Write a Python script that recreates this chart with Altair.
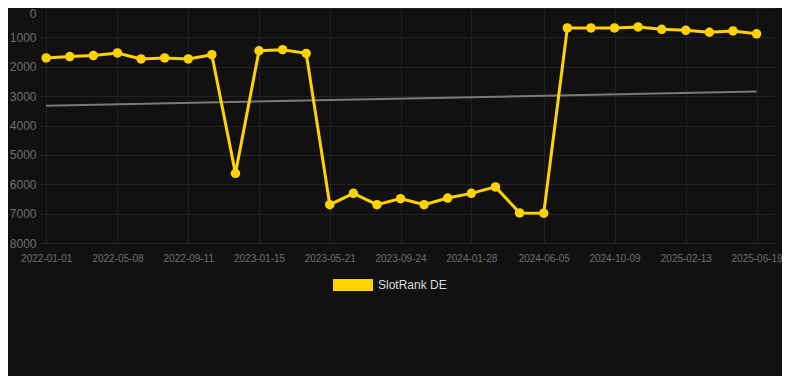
import altair as alt
import pandas as pd

series_name = "SlotRank DE"

dates = [
    "2022-01-01", "2022-02-12", "2022-03-26", "2022-05-08", "2022-06-19", "2022-07-31",
    "2022-09-11", "2022-10-23", "2022-12-04", "2023-01-15", "2023-02-26", "2023-04-09",
    "2023-05-21", "2023-07-02", "2023-08-13", "2023-09-24", "2023-11-05", "2023-12-17",
    "2024-01-28", "2024-03-11", "2024-04-23", "2024-06-05", "2024-07-17", "2024-08-28",
    "2024-10-09", "2024-11-20", "2025-01-01", "2025-02-13", "2025-03-27", "2025-05-08",
    "2025-06-19",
]

ranks = [
    1700, 1655, 1620, 1530, 1735, 1700, 1735, 1590, 5630, 1455, 1420, 1545,
    6695, 6310, 6695, 6490, 6695, 6470, 6310, 6090, 6975, 6985,
    680, 680, 680, 645, 725, 760, 825, 780, 880,
]

tick_dates = [
    (2022, 1, 1), (2022, 5, 8), (2022, 9, 11), (2023, 1, 15), (2023, 5, 21), (2023, 9, 24),
    (2024, 1, 28), (2024, 6, 5), (2024, 10, 9), (2025, 2, 13), (2025, 6, 19),
]
y_ticks = [0, 1000, 2000, 3000, 4000, 5000, 6000, 7000, 8000]

YELLOW = "#FFD200"
FONT = "Liberation Sans"

df = pd.DataFrame({"date": dates, "rank": ranks, "series": [series_name] * len(dates)})


def dt(t):
    return alt.DateTime(year=t[0], month=t[1], date=t[2], utc=True)


x_enc = alt.X(
    "t:T",
    title=None,
    scale=alt.Scale(type="utc", domain=[dt((2021, 12, 21)), dt((2025, 7, 20))]),
    axis=alt.Axis(
        values=[dt(t) for t in tick_dates],
        format="%Y-%m-%d",
        labelColor="#707070",
        labelFontSize=10,
        labelFont=FONT,
        labelPadding=10,
        ticks=False,
        domain=False,
        grid=True,
        gridColor="#222222",
        labelOverlap=False,
    ),
)
y_enc = alt.Y(
    "rank:Q",
    title=None,
    scale=alt.Scale(domain=[0, 8000], reverse=True, nice=False, zero=False),
    axis=alt.Axis(
        values=y_ticks,
        format="d",
        labelColor="#707070",
        labelFontSize=12,
        labelFont=FONT,
        labelPadding=4,
        ticks=False,
        domain=False,
        grid=True,
        gridColor="#222222",
        labelBaseline=alt.condition("datum.value == 0", alt.value("top"), alt.value("middle")),
    ),
)

base = alt.Chart(df).transform_calculate(t="toDate(datum.date)")

trend = base.transform_regression("t", "rank").mark_line(
    color="#7a7a7a", strokeWidth=2
).encode(x=x_enc, y=y_enc)

line = base.mark_line(color=YELLOW, strokeWidth=3).encode(x=x_enc, y=y_enc)

points = base.mark_point(filled=True, size=90, opacity=1).encode(
    x=x_enc,
    y=y_enc,
    color=alt.Color(
        "series:N",
        scale=alt.Scale(domain=[series_name], range=[YELLOW]),
        legend=alt.Legend(
            title=None,
            orient="none",
            legendX=293,
            legendY=257,
            symbolType="M-1,-0.3L1,-0.3L1,0.3L-1,0.3Z",
            symbolSize=1600,
            symbolStrokeWidth=0,
            symbolOpacity=1,
            labelColor="#dddddd",
            labelFontSize=12,
            labelFont=FONT,
            labelOffset=5,
        ),
    ),
)

chart = (
    alt.layer(trend, line, points)
    .properties(
        width=734,
        height=235,
        autosize=alt.AutoSizeParams(type="none"),
        padding={"left": 32, "top": 0, "right": 8, "bottom": 133},
        background="#111111",
    )
    .configure_view(stroke=None)
)

chart.save("out.html", embed_options={"renderer": "svg", "actions": False})
